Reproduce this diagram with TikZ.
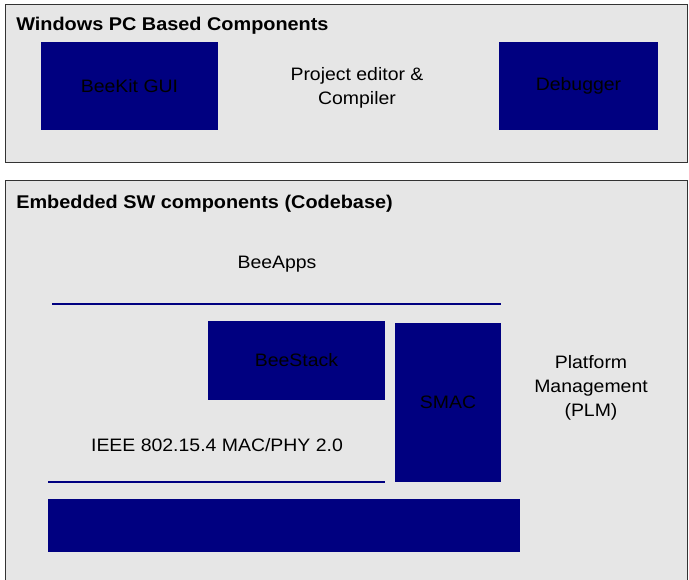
\documentclass[tikz,border=0pt]{standalone}
\usepackage{fontspec}
\setmainfont[FakeStretch=1.08]{Liberation Sans}
\definecolor{panelgray}{HTML}{E6E6E6}
\definecolor{navyb}{HTML}{000080}
\begin{document}
\begin{tikzpicture}[x=0.75pt,y=-0.75pt,
  panel/.style={draw=black!80,line width=0.75pt,fill=panelgray},
  bluebox/.style={fill=navyb,draw=none,inner sep=0pt,text=black,font=\fontsize{13.5pt}{16pt}\selectfont},
  label/.style={align=center,inner sep=0pt,font=\fontsize{13.5pt}{18pt}\selectfont},
  ttl/.style={anchor=west,inner sep=0pt,font=\bfseries\fontsize{13.8pt}{16pt}\selectfont},
  navyline/.style={draw=navyb,line width=1.5pt}]
\useasboundingbox (0,0) rectangle (689,579);
\clip (0,0) rectangle (689,579);
% panels
\draw[panel] (5.5,4.5) rectangle (687.5,162.5);
\draw[panel] (5.5,180.5) rectangle (687.5,590);
\node[ttl] (t1) at (16,26) {Windows PC Based Components};
\node[ttl] (t2) at (16,204) {Embedded SW components (Codebase)};
% top boxes
\node[bluebox,minimum width=177*0.75pt,minimum height=88*0.75pt] (gui) at (129.5,86) {\raisebox{-2pt}{BeeKit GUI}};
\node[bluebox,minimum width=159*0.75pt,minimum height=88*0.75pt] (dbg) at (578.5,86) {\raisebox{-2pt}{Debugger}};
\node[label] (pec) at (357,87.5) {Project editor \&\\Compiler};
% embedded
\node[label] (apps) at (277,264.5) {BeeApps};
\coordinate (l1a) at (52,304);
\coordinate (l1b) at (501,304);
\draw[navyline] (l1a) -- (l1b);
\node[bluebox,minimum width=177*0.75pt,minimum height=79*0.75pt] (stack) at (296.5,360.5) {BeeStack};
\node[bluebox,minimum width=106*0.75pt,minimum height=159*0.75pt] (smac) at (448,402.5) {SMAC};
\node[label] (plm) at (591,387.5) {Platform\\Management\\(PLM)};
\node[label] (ieee) at (217,445.5) {IEEE 802.15.4 MAC/PHY 2.0};
\coordinate (l2a) at (48,482);
\coordinate (l2b) at (385,482);
\draw[navyline] (l2a) -- (l2b);
\node[bluebox,minimum width=472*0.75pt,minimum height=53*0.75pt] (hw) at (284,525.5) {};
\end{tikzpicture}
\end{document}
